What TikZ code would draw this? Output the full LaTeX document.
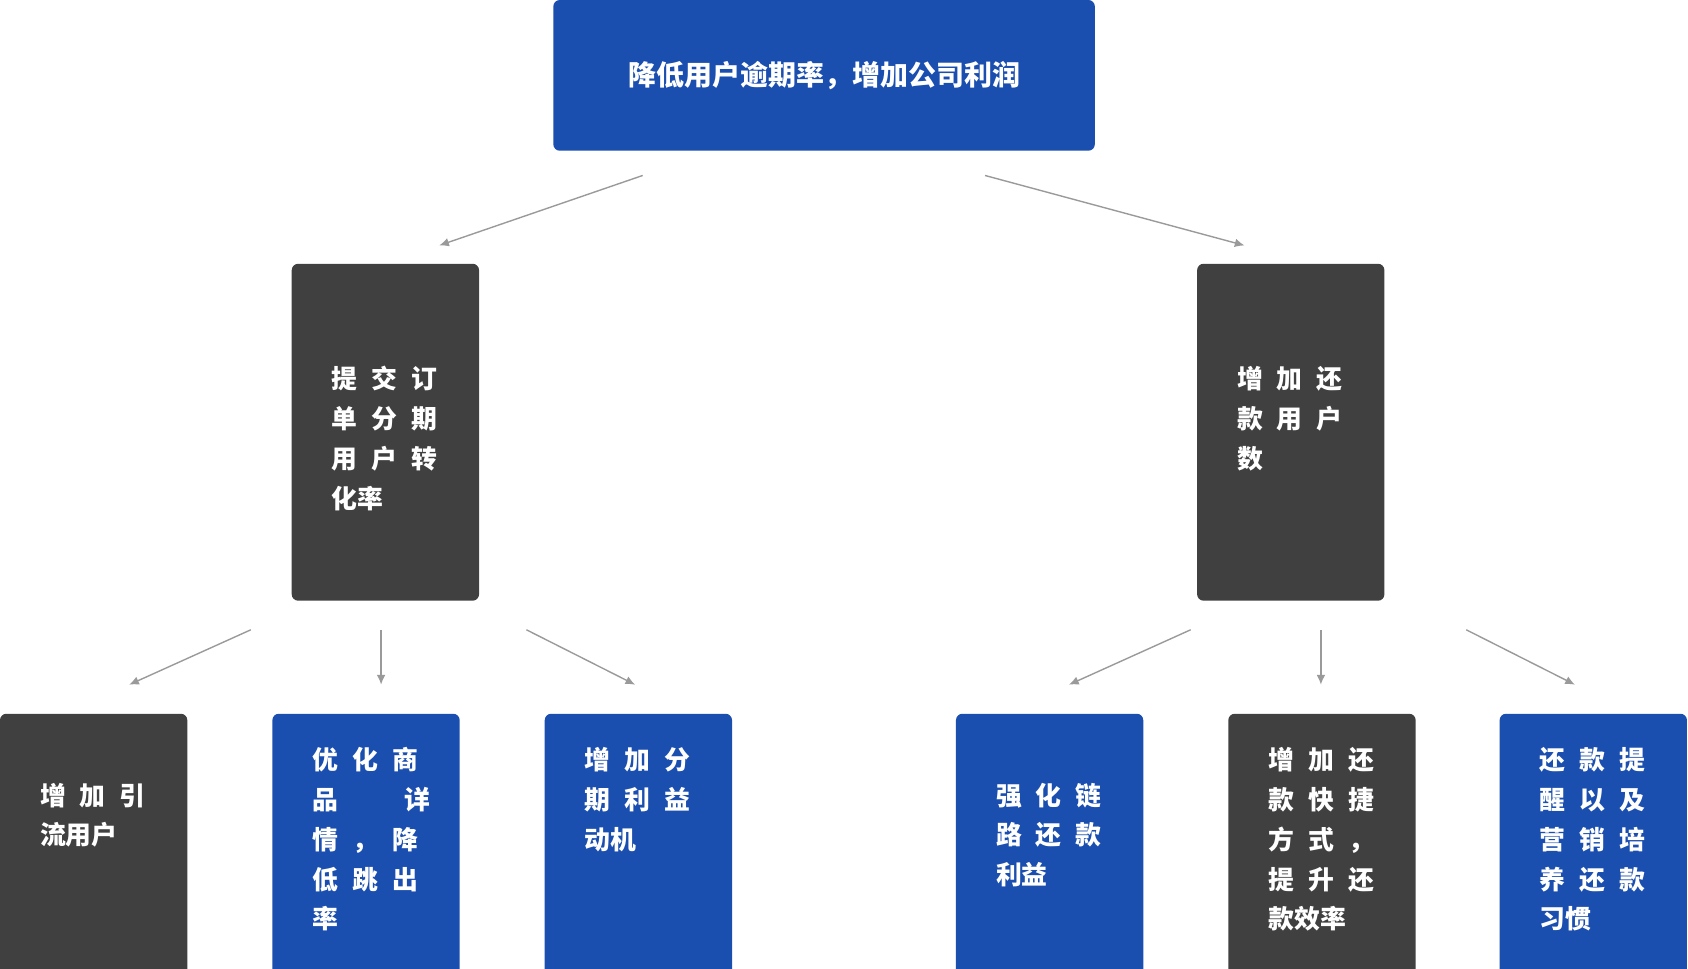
\documentclass[tikz,border=0pt]{standalone}
\usepackage{fontspec}
\newfontfamily\cjk{Noto Sans CJK SC}
\usetikzlibrary{positioning, arrows.meta}
\definecolor{boxblue}{HTML}{1A4EAF}
\definecolor{boxdark}{HTML}{404040}
\definecolor{arrowgray}{HTML}{9A9A9A}
\newcommand\gp{\hspace{13pt}}
\begin{document}
\begin{tikzpicture}[
        x=1pt, y=-1pt,
        box/.style={rounded corners=6pt},
        txt/.style={anchor=north west, inner sep=0pt, align=left, text=white,
            font=\cjk\bfseries\fontsize{24}{37}\selectfont},
        link/.style={draw=arrowgray, line width=1.3pt, -{Latex[length=9pt,width=8pt]}}
    ]
        \useasboundingbox (0,0) rectangle (1568,900);
        % top goal
        \fill[boxblue, box] (514,0) rectangle (1017,140);
        \node[anchor=center, inner sep=0pt, text=white, font=\cjk\bfseries\fontsize{26}{30}\selectfont] (goal) at (766,70) {降低用户逾期率，增加公司利润};

        % second level
        \fill[boxdark, box] (271,245) rectangle (445,558);
        \node[txt] (order) at (308,340) {提\gp 交\gp 订\\单\gp 分\gp 期\\用\gp 户\gp 转\\化率};
        \fill[boxdark, box] (1112,245) rectangle (1286,558);
        \node[txt] (repay) at (1149,340) {增\gp 加\gp 还\\款\gp 用\gp 户\\数};

        % third level
        \fill[boxdark, box] (0,663) rectangle (174,920);
        \node[txt] (traffic) at (37,727) {增\gp 加\gp 引\\流用户};
        \fill[boxblue, box] (253,663) rectangle (427,920);
        \node[txt] (detail) at (290,694) {优\gp 化\gp 商\\品\hspace{62pt}详\\情\gp ，\gp 降\\低\gp 跳\gp 出\\率};
        \fill[boxblue, box] (506,663) rectangle (680,920);
        \node[txt] (benefit) at (543,694) {增\gp 加\gp 分\\期\gp 利\gp 益\\动机};
        \fill[boxblue, box] (888,663) rectangle (1062,920);
        \node[txt] (link) at (925,727) {强\gp 化\gp 链\\路\gp 还\gp 款\\利益};
        \fill[boxdark, box] (1141,663) rectangle (1315,920);
        \node[txt] (quick) at (1178,694) {增\gp 加\gp 还\\款\gp 快\gp 捷\\方\gp 式\gp ，\\提\gp 升\gp 还\\款效率};
        \fill[boxblue, box] (1393,663) rectangle (1567,920);
        \node[txt] (remind) at (1430,694) {还\gp 款\gp 提\\醒\gp 以\gp 及\\营\gp 销\gp 培\\养\gp 还\gp 款\\习惯};

        % connectors
        \coordinate (g1) at (597,163); \coordinate (o1) at (408,228);
        \coordinate (g2) at (915,163); \coordinate (r1) at (1156,228);
        \coordinate (oa) at (233,585); \coordinate (ta) at (120,636);
        \coordinate (ob) at (354,585); \coordinate (db) at (354,636);
        \coordinate (oc) at (489,585); \coordinate (bc) at (590,636);
        \coordinate (ra) at (1106,585); \coordinate (la) at (993,636);
        \coordinate (rb) at (1227,585); \coordinate (qb) at (1227,636);
        \coordinate (rc) at (1362,585); \coordinate (mc) at (1463,636);
        \draw[link] (g1) -- (o1);
        \draw[link] (g2) -- (r1);
        \draw[link] (oa) -- (ta);
        \draw[link] (ob) -- (db);
        \draw[link] (oc) -- (bc);
        \draw[link] (ra) -- (la);
        \draw[link] (rb) -- (qb);
        \draw[link] (rc) -- (mc);
\end{tikzpicture}
\end{document}
